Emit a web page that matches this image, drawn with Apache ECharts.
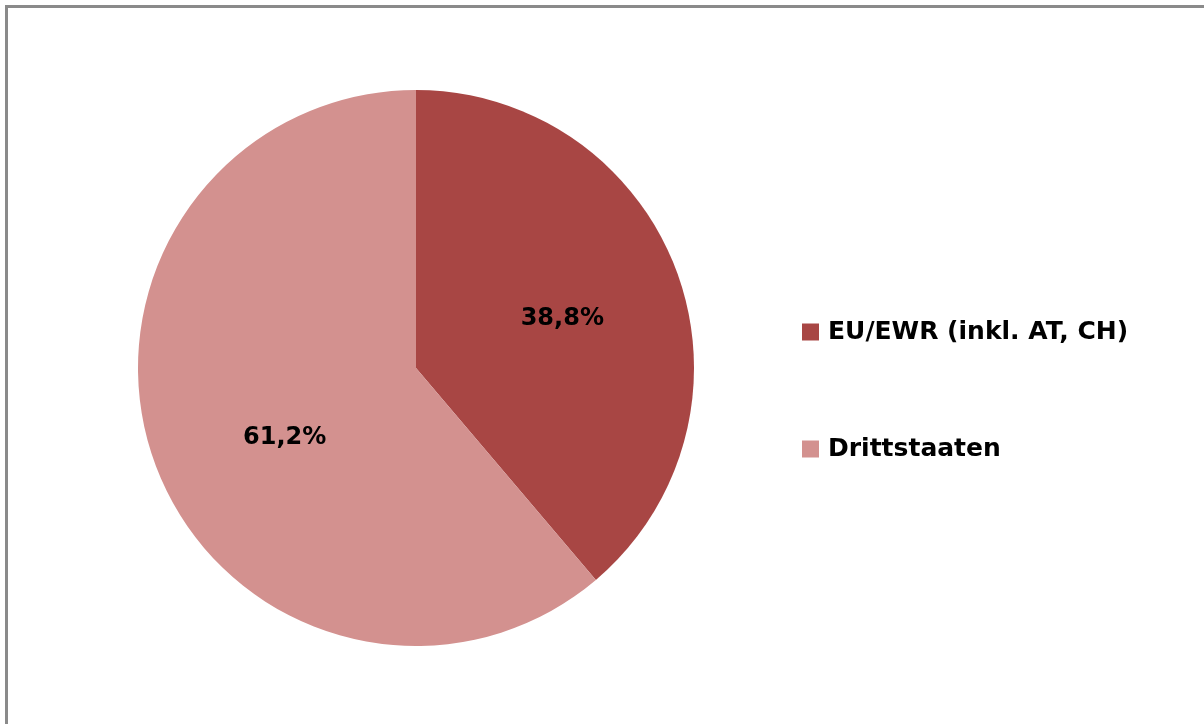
<!DOCTYPE html>
<html>
<head>
<meta charset="utf-8">
<script src="https://cdn.jsdelivr.net/npm/echarts@6/dist/echarts.min.js"></script>
<style>
html,body{margin:0;padding:0;background:#fff;}
#frame{position:absolute;left:5px;top:5px;width:1300px;height:800px;border:3px solid #8a8a8a;box-sizing:border-box;}
#chart{position:absolute;left:0;top:0;width:1204px;height:724px;}
</style>
</head>
<body>
<div id="frame"></div>
<div id="chart"></div>
<script>
const categories = ['EU/EWR (inkl. AT, CH)', 'Drittstaaten'];
const values = [38.8, 61.2];
const colors = ['#A84644', '#D3918F'];
const labelOffsets = [[13, 0], [2, 21]];

const chart = echarts.init(document.getElementById('chart'));
chart.setOption({
  animation: false,
  legend: {
    orient: 'vertical',
    left: 797,
    top: 312,
    itemWidth: 17,
    itemHeight: 17,
    itemGap: 87,
    icon: 'rect',
    textStyle: {fontFamily: 'DejaVu Sans', fontWeight: 'bold', fontSize: 25, color: '#000', lineHeight: 30, padding: [0,0,0,4]},
    data: categories
  },
  series: [{
    type: 'pie',
    center: [416, 368],
    radius: 278,
    startAngle: 90,
    clockwise: true,
    silent: true,
    label: {
      show: true,
      position: 'inside',
      fontFamily: 'DejaVu Sans',
      fontWeight: 'bold',
      fontSize: 24,
      color: '#000',
      formatter: p => p.value.toFixed(1).replace('.', ',') + '%'
    },
    labelLine: {show: false},
    data: categories.map((c, i) => ({
      name: c,
      value: values[i],
      itemStyle: {color: colors[i]},
      label: {offset: labelOffsets[i]}
    }))
  }]
});
</script>
</body>
</html>
